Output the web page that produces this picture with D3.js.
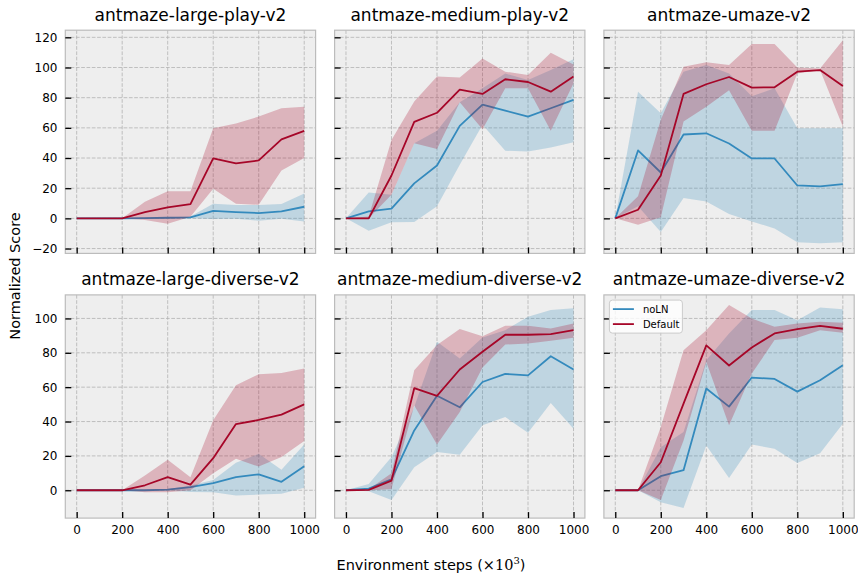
<!DOCTYPE html>
<html><head><meta charset="utf-8">
<script src="https://cdn.jsdelivr.net/npm/d3@7"></script>
<style>
body{margin:0;background:#fff}
text{font-family:"DejaVu Sans",sans-serif;fill:#000}
</style>
</head><body>
<svg id="chart" width="858" height="576"></svg>
<script>
// ---------------- data ----------------
const steps = [0,100,200,300,400,500,600,700,800,900,1000];
const xTicks = [0,200,400,600,800,1000];
const yTicksTop = [-20,0,20,40,60,80,100,120];
const yTicksBottom = [0,20,40,60,80,100];
const titles = ["antmaze-large-play-v2","antmaze-medium-play-v2","antmaze-umaze-v2",
                "antmaze-large-diverse-v2","antmaze-medium-diverse-v2","antmaze-umaze-diverse-v2"];
const seriesNames = ["noLN","Default"];

// antmaze-large-play-v2
const largePlay_noLN      = [0,0,0,0.2,0.4,0.7,4.9,4.2,3.5,4.6,7.7];
const largePlay_noLN_lo   = [0,0,0,-0.3,-0.3,0,-0.5,-0.3,-1.5,-0.3,-2];
const largePlay_noLN_hi   = [0,0,0,0.5,0.8,1.2,9.7,8.8,8.8,9.5,16.5];
const largePlay_def       = [0,0,0,4.2,7.3,9.5,39.7,36.4,38.4,52.3,58];
const largePlay_def_lo    = [0,0,0,-1.1,-3.5,1,19.6,9.7,9,31.8,40];
const largePlay_def_hi    = [0,0,0,11,18,17.9,59.8,62.8,67.5,73,74];
// antmaze-medium-play-v2
const mediumPlay_noLN     = [0,4.6,6.4,23.2,35,61.3,75.4,71.4,67.5,73,78.5];
const mediumPlay_noLN_lo  = [0,-8.2,-2.6,-2.4,8,35.5,62,44.8,44.3,47,50.5];
const mediumPlay_noLN_hi  = [0,17.2,15.7,49.8,58,77,86.2,96,91.7,98.3,105.4];
const mediumPlay_def      = [0,0,28.4,64,70,85.3,82.5,92.2,90.4,84,94];
const mediumPlay_def_lo   = [0,0,15.7,49.8,46,77,59,86.2,86.2,58,89.5];
const mediumPlay_def_hi   = [0,1.3,52,77.4,94,93.3,106,97.2,95,109.8,102];
// antmaze-umaze-v2
const umaze_noLN          = [0,45,30.4,55.6,56.4,49.6,39.7,39.7,21.8,21.2,22.7];
const umaze_noLN_lo       = [0,8,-9,13.5,11.2,2.9,-2,-6.8,-15.9,-16.5,-15.9];
const umaze_noLN_hi       = [0,84,69.7,97.2,101.7,96,81,86.2,59.8,59.8,59.8];
const umaze_def           = [0,5.7,28.4,82.5,88.9,93.7,86.7,86.9,97.2,98.3,87.8];
const umaze_def_lo        = [0,-4.2,0.7,64.2,74,85,58,58,96,98.3,60.9];
const umaze_def_hi        = [0,14.6,65.3,100.5,103.4,101.7,115.5,115.5,100,99.4,118];
// antmaze-large-diverse-v2
const largeDiv_noLN       = [0,0,0,0,0.4,1.8,4.1,7.6,9.3,4.9,14];
const largeDiv_noLN_lo    = [0,0,0,-0.2,-0.2,-1,-1.2,-3.1,-2.5,-2.1,1.4];
const largeDiv_noLN_hi    = [0,0,0,0.2,0.6,2.7,6,16,21.2,12,26.7];
const largeDiv_def        = [0,0,0,2.9,7.6,3.3,18.7,38.5,40.9,44,50];
const largeDiv_def_lo     = [0,0,0,-1.2,-1.2,0,9.9,18.3,13.8,19.3,28.6];
const largeDiv_def_hi     = [0,0,0,8.6,17.7,7.6,40.7,61.1,67.5,68.3,70.8];
// antmaze-medium-diverse-v2
const mediumDiv_noLN      = [0,1,6.4,34.8,55,48.3,63,67.7,66.9,78,70.3];
const mediumDiv_noLN_lo   = [0,-0.6,-5.6,13.4,22.2,20.6,37.8,42.6,33.5,50.8,35.8];
const mediumDiv_noLN_hi   = [0,3.7,19.3,48.5,86.4,76.7,88.9,93.2,101,104.9,105.9];
const mediumDiv_def       = [0,0.2,5.6,59.4,54.9,70.3,80.6,90.5,90.5,90.9,93.2];
const mediumDiv_def_lo    = [0,-0.2,0.8,49.4,26.7,45.5,71.4,84.8,85.4,87,88.7];
const mediumDiv_def_hi    = [0,0.6,9.9,69.9,84.5,93.8,89.7,95.7,95.7,94.2,97.1];
// antmaze-umaze-diverse-v2
const umazeDiv_noLN       = [0,0,8.2,11.7,59.2,48.7,65.6,64.8,57.4,64,72.8];
const umazeDiv_noLN_lo    = [0,0,-7,-10.3,26.1,7.2,26.7,24.1,15.8,21.6,38.7];
const umazeDiv_noLN_hi    = [0,0,25.1,33.9,75.7,91.3,104.9,104.9,99,106.4,105.3];
const umazeDiv_def        = [0,0,16.3,50.4,84.3,72.6,83.1,91.3,93.8,95.7,94];
const umazeDiv_def_lo     = [0,0,-5.6,29,74.7,37.8,67.9,87.4,88.7,93.2,91.7];
const umazeDiv_def_hi     = [0,0,36.8,81.5,93.2,107.8,100,95.1,97.1,98.1,97.5];

// ---------------- layout ----------------
const colors = {noLN:"#348ABD", Default:"#A60628"};
const panels = [
  {title:titles[0], s:[[largePlay_noLN,largePlay_noLN_lo,largePlay_noLN_hi],[largePlay_def,largePlay_def_lo,largePlay_def_hi]]},
  {title:titles[1], s:[[mediumPlay_noLN,mediumPlay_noLN_lo,mediumPlay_noLN_hi],[mediumPlay_def,mediumPlay_def_lo,mediumPlay_def_hi]]},
  {title:titles[2], s:[[umaze_noLN,umaze_noLN_lo,umaze_noLN_hi],[umaze_def,umaze_def_lo,umaze_def_hi]]},
  {title:titles[3], s:[[largeDiv_noLN,largeDiv_noLN_lo,largeDiv_noLN_hi],[largeDiv_def,largeDiv_def_lo,largeDiv_def_hi]]},
  {title:titles[4], s:[[mediumDiv_noLN,mediumDiv_noLN_lo,mediumDiv_noLN_hi],[mediumDiv_def,mediumDiv_def_lo,mediumDiv_def_hi]]},
  {title:titles[5], s:[[umazeDiv_noLN,umazeDiv_noLN_lo,umazeDiv_noLN_hi],[umazeDiv_def,umazeDiv_def_lo,umazeDiv_def_hi]]},
];
const colX = [65.3, 334.6, 603.9], panelW = 250.3;
const rowY = [30.2, 294.9], panelH = 223.2;

const svg = d3.select("#chart");

// shared-y per row with 5% margins (matplotlib autoscale)
function rowDomain(r){
  let lo=Infinity, hi=-Infinity;
  for(let c=0;c<3;c++){
    panels[r*3+c].s.forEach(([m,l,h])=>{
      lo=Math.min(lo,d3.min(m),d3.min(l)); hi=Math.max(hi,d3.max(m),d3.max(h));
    });
  }
  const p=(hi-lo)*0.05; return [lo-p, hi+p];
}
const yDomains=[rowDomain(0),rowDomain(1)];
const x = d3.scaleLinear().domain([-50,1050]).range([0,panelW]);

panels.forEach((p,i)=>{
  const r=Math.floor(i/3), c=i%3;
  const y = d3.scaleLinear().domain(yDomains[r]).range([panelH,0]);
  const yTicks = r===0 ? yTicksTop : yTicksBottom;
  const g = svg.append("g").attr("transform",`translate(${colX[c]},${rowY[r]})`);
  const cid = "clip"+i;
  g.append("clipPath").attr("id",cid).append("rect").attr("width",panelW).attr("height",panelH);
  g.append("rect").attr("width",panelW).attr("height",panelH).attr("fill","#eeeeee");
  // grid
  const grid = g.append("g").attr("stroke","#b2b2b2").attr("stroke-width",0.8).attr("stroke-dasharray","3.7,1.6");
  xTicks.forEach(t=>grid.append("line").attr("x1",x(t)).attr("x2",x(t)).attr("y1",0).attr("y2",panelH));
  yTicks.forEach(t=>grid.append("line").attr("x1",0).attr("x2",panelW).attr("y1",y(t)).attr("y2",y(t)));
  const plot = g.append("g").attr("clip-path",`url(#${cid})`);
  p.s.forEach(([m,l,h],k)=>{
    const col = colors[seriesNames[k]];
    const area = d3.area().x((d,j)=>x(steps[j])).y0((d,j)=>y(l[j])).y1((d,j)=>y(h[j]));
    plot.append("path").datum(m).attr("d",area).attr("fill",col).attr("fill-opacity",0.25);
    const line = d3.line().x((d,j)=>x(steps[j])).y(d=>y(d));
    plot.append("path").datum(m).attr("d",line).attr("fill","none").attr("stroke",col)
      .attr("stroke-width",1.8).attr("stroke-linejoin","round");
  });
  // frame
  g.append("rect").attr("width",panelW).attr("height",panelH).attr("fill","none")
    .attr("stroke","#bcbcbc").attr("stroke-width",1.2);
  // axes
  const xa = d3.axisBottom(x).tickValues(xTicks).tickSize(-6).tickPadding(7.5)
    .tickFormat(r===1 ? d3.format("d") : ()=>"");
  const gx = g.append("g").attr("transform",`translate(0,${panelH})`).call(xa);
  const ya = d3.axisLeft(y).tickValues(yTicks).tickSize(-6).tickPadding(7.8)
    .tickFormat(c===0 ? d3.format("d") : ()=>"");
  const gy = g.append("g").call(ya);
  [gx,gy].forEach(a=>{
    a.select(".domain").remove();
    a.selectAll(".tick line").attr("stroke","#000").attr("stroke-width",1.3);
    a.selectAll(".tick text").attr("font-size",12).attr("font-family","DejaVu Sans").attr("fill","#000");
  });
  // title
  g.append("text").attr("x",panelW/2).attr("y",-9.5).attr("text-anchor","middle")
    .attr("font-size",17).text(p.title);
  // legend
  if(i===5){
    const lg = g.append("g").attr("transform","translate(5.5,5.2)");
    lg.append("rect").attr("width",73).attr("height",33).attr("rx",3)
      .attr("fill","#ffffff").attr("fill-opacity",0.8).attr("stroke","#cccccc").attr("stroke-width",1);
    seriesNames.forEach((n,k)=>{
      const yy = 9 + k*15;
      lg.append("line").attr("x1",3.5).attr("x2",24.5).attr("y1",yy).attr("y2",yy)
        .attr("stroke",colors[n]).attr("stroke-width",1.8);
      lg.append("text").attr("x",33.5).attr("y",yy).attr("dy","0.35em").attr("font-size",10).text(n);
    });
  }
});

// axis labels
svg.append("text").attr("transform","translate(20,276) rotate(-90)").attr("text-anchor","middle")
  .attr("font-size",14.5).text("Normalized Score");
const xl = svg.append("text").attr("x",431).attr("y",570).attr("text-anchor","middle").attr("font-size",14.5);
xl.append("tspan").text("Environment steps (");
xl.append("tspan").attr("font-family","DejaVu Serif").text("×10");
xl.append("tspan").attr("font-family","DejaVu Serif").attr("font-size",10).attr("dy",-6).text("3");
xl.append("tspan").attr("dy",6).text(")");
</script>
</body></html>
